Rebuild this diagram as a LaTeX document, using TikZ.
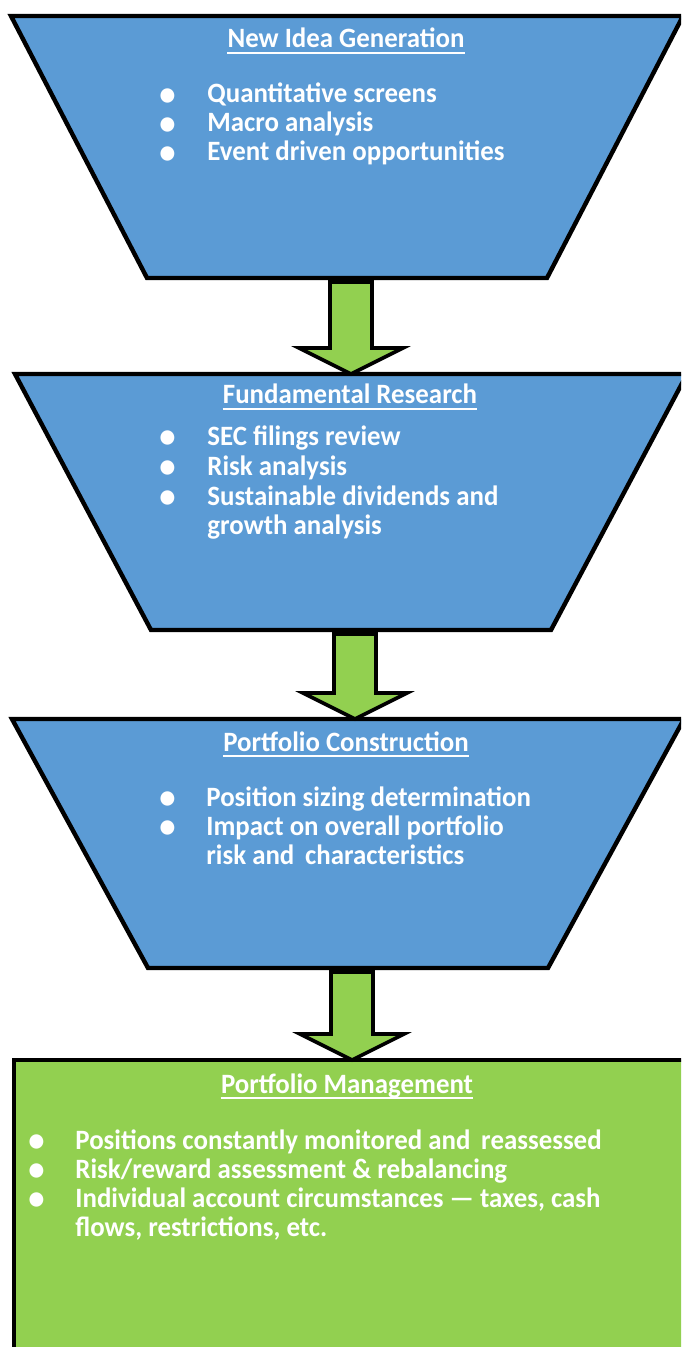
\documentclass[tikz,border=0pt]{standalone}
\usepackage{fontspec}
\setmainfont[FakeStretch=0.96]{Carlito}
\usetikzlibrary{calc}
\usetikzlibrary{positioning}

\definecolor{stageblue}{HTML}{5B9BD5}
\definecolor{stagegreen}{HTML}{92D050}

\newcommand\dotmark{\smash{\raisebox{-1.2pt}{\fontsize{17}{14.5}\selectfont\textbullet}}}

\tikzset{
  stage/.style={draw=black, line width=2.2pt, fill=stageblue, line join=miter},
  mgmt/.style={draw=black, line width=2.2pt, fill=stagegreen},
  flowarrow/.style={draw=black, line width=1.8pt, fill=stagegreen, line join=miter},
  heading/.style={anchor=base, inner sep=0pt, text=white, font=\fontsize{14}{14.5}\selectfont\bfseries},
  headline/.style={draw=white, line width=1.1pt},
  items/.style={anchor=base west, inner sep=0pt, text=white, align=left, font=\fontsize{14}{14.5}\selectfont\bfseries}
}

\begin{document}
\begin{tikzpicture}[x=0.5pt, y=-0.5pt]
        % Frame (picture is cut off at the right edge)
        \useasboundingbox (0,0) rectangle (681,1347);
        \clip (0,0) rectangle (681,1347);

        % Trapezoid stages
        \foreach \name/\ytop/\ybot/\cx in {idea/16/278/347, research/374/630/351, build/719/968/348} {
            \draw[stage] (\cx-336,\ytop) -- (\cx+336,\ytop) -- (\cx+200,\ybot) -- (\cx-200,\ybot) -- cycle;
            \coordinate (\name-top) at (\cx,\ytop); % top edge
            \coordinate (\name-bot) at (\cx,\ybot); % bottom edge
        }

        % Last stage box
        \draw[mgmt] (14,1060) rectangle (720,1400);
        \coordinate (mgmt-top) at (351,1060);

        % Block arrows between stages
        \foreach \from/\to in {idea/research, research/build, build/mgmt} {
            \draw[flowarrow] let \p1=(\from-bot), \p2=(\to-top) in
                (\x1-8.5pt,\y1-2pt) -- (\x1+12.5pt,\y1-2pt) -- (\x1+12.5pt,\y2+13pt) -- (\x1+28pt,\y2+13pt)
                -- (\x1+2pt,\y2) -- (\x1-24pt,\y2+13pt) -- (\x1-8.5pt,\y2+13pt) -- cycle;
        }

        % Headings
        \node[heading] (ideahead) at (346,48) {New Idea Generation};
        \node[heading] (researchhead) at (350,404) {Fundamental Research};
        \node[heading] (buildhead) at (346,751) {Portfolio Construction};
        \node[heading] (mgmthead) at (347,1093) {Portfolio Management};
        \foreach \h in {ideahead, researchhead, buildhead, mgmthead}
            \draw[headline] ($(\h.base west)+(0,5)$) -- ($(\h.base east)+(0,5)$); % underline

        % Bullet lists
        \node[items] (ideaitems) at (159,103) {\begin{tabular}[t]{@{}p{24pt}@{}l@{}}
            \dotmark & Quantitative screens\\
            \dotmark & Macro analysis\\
            \dotmark & Event driven opportunities
        \end{tabular}};
        \node[items] (researchitems) at (159,445) {\begin{tabular}[t]{@{}p{24pt}@{}l@{}}
            \dotmark & SEC filings review\\[0.5pt]
            \dotmark & Risk analysis\\[0.5pt]
            \dotmark & Sustainable dividends and\\
                     & growth analysis
        \end{tabular}};
        \node[items] (builditems) at (159,806) {\begin{tabular}[t]{@{}p{23.5pt}@{}l@{}}
            \dotmark & Position sizing determination\\
            \dotmark & Impact on overall portfolio\\
                     & risk and\, characteristics
        \end{tabular}};
        \node[items] (mgmtitems) at (28,1149) {\begin{tabular}[t]{@{}p{23.5pt}@{}l@{}}
            \dotmark & Positions constantly monitored and\, reassessed\\
            \dotmark & Risk/reward assessment \& rebalancing\\
            \dotmark & Individual account circumstances — taxes, cash\\
                     & flows, restrictions, etc.
        \end{tabular}};
\end{tikzpicture}
\end{document}
